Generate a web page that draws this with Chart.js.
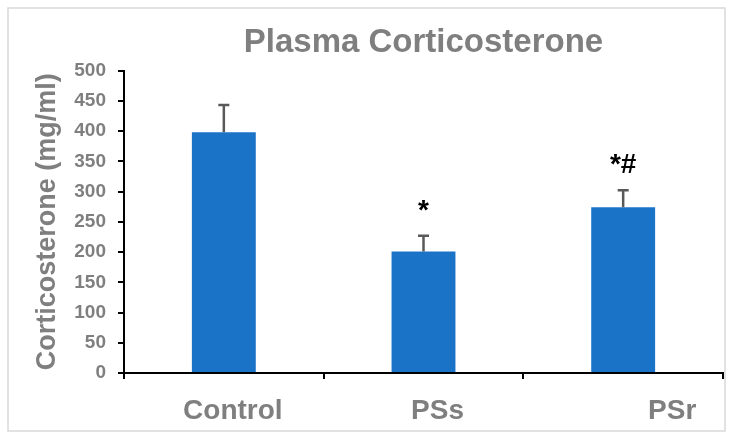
<!DOCTYPE html>
<html>
<head>
<meta charset="utf-8">
<script src="https://cdn.jsdelivr.net/npm/chart.js@4/dist/chart.umd.min.js"></script>
<style>
  body { margin: 0; background: #fff; }
  #wrap { width: 733px; height: 438px; }
</style>
</head>
<body>
<div id="wrap"><canvas id="chart_cort"></canvas></div>
<script>
// data
var grupos = ["Control", "PSs", "PSr"];
var medias = [398, 201, 274];
var errores = [45, 26, 28];
var marcas = ["", "*", "*#"];

var gris = "#7f7f7f";
var fuente = "'Liberation Sans', Arial, sans-serif";
// labels under the axis are not centred on the bars in the original
var corrimiento = [9, 14, 49];

// frame around the whole figure
var marco = {
  id: "marco",
  beforeDraw: function(chart) {
    var ctx = chart.ctx;
    ctx.save();
    ctx.fillStyle = "#fff";
    ctx.fillRect(0, 0, chart.width, chart.height);
    ctx.strokeStyle = "#d9d9d9";
    ctx.lineWidth = 1.5;
    ctx.strokeRect(8, 8, 717, 423);
    ctx.restore();
  }
};

// error bars, significance marks and category labels
var extras = {
  id: "extras",
  afterDatasetsDraw: function(chart) {
    var ctx = chart.ctx;
    var meta = chart.getDatasetMeta(0);
    var y = chart.scales.y;
    var x = chart.scales.x;
    ctx.save();
    for (var i = 0; i < medias.length; i++) {
      var bx = meta.data[i].x;
      var yTop = y.getPixelForValue(medias[i] + errores[i]);
      var yMean = y.getPixelForValue(medias[i]);
      ctx.strokeStyle = "#595959";
      ctx.lineWidth = 2.5;
      ctx.beginPath();
      ctx.moveTo(bx, yMean);
      ctx.lineTo(bx, yTop);
      ctx.moveTo(bx - 5.5, yTop);
      ctx.lineTo(bx + 5.5, yTop);
      ctx.stroke();
      if (marcas[i]) {
        ctx.fillStyle = "#000";
        ctx.font = "bold 28px " + fuente;
        ctx.textAlign = "center";
        ctx.textBaseline = "alphabetic";
        ctx.fillText(marcas[i], bx, yTop - 17);
      }
    }
    ctx.fillStyle = gris;
    ctx.font = "bold 28px " + fuente;
    ctx.textAlign = "center";
    ctx.textBaseline = "middle";
    for (var j = 0; j < grupos.length; j++) {
      ctx.fillText(grupos[j], x.getPixelForValue(j) + corrimiento[j], x.top + 38);
    }
    ctx.restore();
  }
};

var ctx = document.getElementById("chart_cort").getContext("2d");
var chart = new Chart(ctx, {
  type: "bar",
  data: {
    labels: grupos,
    datasets: [{
      label: "Plasma Corticosterone",
      data: medias,
      backgroundColor: "#1b73c8",
      categoryPercentage: 1,
      barPercentage: 0.32
    }]
  },
  options: {
    responsive: true,
    maintainAspectRatio: false,
    animation: false,
    layout: { padding: { left: 0, right: 10, top: 0, bottom: 0 } },
    plugins: {
      legend: { display: false },
      tooltip: { enabled: false },
      title: {
        display: true,
        fullSize: false,
        text: "Plasma Corticosterone",
        color: gris,
        font: { family: fuente, size: 33, weight: "bold" },
        padding: { top: 23, bottom: 8 }
      }
    },
    scales: {
      x: {
        offset: true,
        grid: {
          offset: true,
          drawOnChartArea: false,
          drawTicks: true,
          tickLength: 6,
          color: "#000",
          lineWidth: 2
        },
        border: { color: "#000", width: 2 },
        ticks: { display: false },
        afterFit: function(scale) { scale.height = 65; }
      },
      y: {
        min: 0,
        max: 500,
        ticks: {
          stepSize: 50,
          color: gris,
          padding: 12,
          font: { family: fuente, size: 19, weight: "bold" }
        },
        grid: {
          drawOnChartArea: false,
          drawTicks: true,
          tickLength: 6,
          color: "#000",
          lineWidth: 2
        },
        border: { color: "#000", width: 2 },
        title: {
          display: true,
          text: "Corticosterone (mg/ml)",
          color: gris,
          font: { family: fuente, size: 27, weight: "bold" },
          padding: { top: 31, bottom: 0 }
        },
        afterFit: function(scale) { scale.width = 124; }
      }
    }
  },
  plugins: [marco, extras]
});
</script>
</body>
</html>
